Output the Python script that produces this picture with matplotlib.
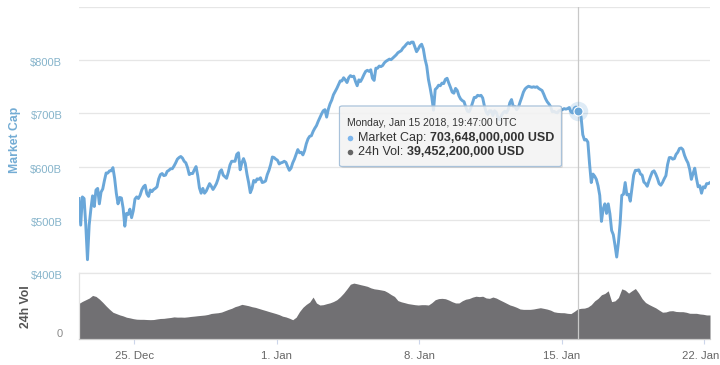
import matplotlib
matplotlib.use('Agg')
import matplotlib.pyplot as plt
import matplotlib.transforms as mtransforms
from matplotlib.patches import FancyBboxPatch
from matplotlib.lines import Line2D
from matplotlib.text import Annotation
import pandas as pd

plt.rcParams['font.family'] = ['Liberation Sans', 'DejaVu Sans']

# ---------------- data ----------------
cap_start = '2017-12-22 07:00'
cap_step = '2h'
market_cap_b = [
    540, 490, 543, 540, 490, 425, 490, 520, 545, 525, 556, 559,
    530, 552, 558, 574, 588, 588, 592, 592, 598, 578, 550, 530,
    542, 541, 522, 488, 512, 510, 520, 504, 517, 539, 543, 540,
    546, 556, 562, 565, 549, 544, 556, 553, 557, 559, 562, 577,
    585, 587, 583, 584, 591, 593, 596, 596, 601, 607, 614, 617,
    619, 616, 610, 607, 598, 585, 587, 587, 594, 600, 583, 560,
    550, 559, 550, 554, 561, 568, 563, 557, 562, 568, 577, 590,
    594, 584, 581, 578, 589, 603, 610, 610, 610, 623, 626, 594,
    607, 615, 606, 586, 570, 551, 559, 574, 571, 577, 576, 579,
    570, 571, 573, 585, 593, 604, 618, 617, 614, 612, 605, 607,
    608, 610, 608, 600, 593, 597, 607, 614, 623, 632, 626, 627,
    622, 630, 643, 652, 657, 658, 666, 672, 677, 685, 692, 699,
    705, 707, 693, 708, 718, 725, 735, 741, 747, 754, 761, 761,
    767, 763, 758, 767, 771, 769, 770, 760, 752, 763, 760, 766,
    773, 779, 781, 779, 782, 766, 762, 785, 785, 789, 788, 790,
    795, 798, 800, 802, 801, 804, 807, 810, 814, 816, 818, 823,
    826, 830, 833, 831, 834, 834, 825, 816, 821, 827, 830, 821,
    802, 789, 764, 748, 730, 706, 745, 748, 753, 752, 757, 756,
    764, 766, 757, 749, 740, 738, 747, 743, 733, 727, 724, 722,
    712, 704, 703, 710, 720, 730, 730, 734, 733, 734, 729, 714,
    703, 698, 705, 705, 696, 705, 702, 692, 688, 696, 701, 704,
    701, 707, 720, 726, 713, 713, 707, 711, 721, 730, 740, 746,
    749, 751, 750, 749, 750, 749, 750, 747, 745, 743, 736, 728,
    722, 718, 713, 703, 704, 702, 701, 705, 706, 707, 709, 708,
    709, 711, 703, 701, 710, 712, 707, 703, 693, 660, 650, 651,
    646, 605, 570, 586, 582, 576, 564, 546, 497, 520, 530, 512,
    530, 511, 480, 472, 452, 430, 457, 493, 546, 548, 570, 547,
    548, 535, 560, 584, 593, 593, 594, 586, 584, 571, 568, 563,
    573, 582, 590, 592, 586, 578, 568, 565, 570, 577, 583, 604,
    617, 617, 614, 615, 623, 627, 634, 635, 632, 621, 613, 607,
    595, 576, 587, 597, 578, 562, 564, 550, 562, 560, 568, 568,
    570,
]

vol_start = '2017-12-22 07:00'
vol_step = '4h'
volume_b = [
    54, 57, 59.5, 62, 66, 64.5,
    60.5, 55.5, 50, 45, 40.5, 38.5,
    36.5, 35, 33, 32, 30.8, 30,
    29.8, 29.8, 29.5, 29.3, 29.5, 30.4,
    31.1, 31.3, 32, 32.6, 33.5, 33.1,
    33.2, 33, 33.5, 34.2, 34.7, 35.3,
    35.8, 36.3, 37.2, 38.7, 39.3, 39.8,
    40.8, 42.8, 44.8, 46.5, 49, 50.5,
    52.5, 51.5, 50.4, 48.9, 47.9, 46.3,
    44.7, 43.2, 41.6, 40.1, 38.6, 36.9,
    34.6, 33.4, 31.5, 29.2, 33, 41.5,
    48, 52.5, 56, 63.5, 54.5, 51.5,
    52, 53.5, 54.8, 56.8, 59.5, 64,
    69.5, 76, 83, 84.7, 83.6, 82.3,
    81.1, 79.8, 77.5, 76, 75.3, 74.4,
    73.4, 70.7, 67.3, 64.4, 58.2, 56.3,
    55, 53.6, 52.8, 52, 51.5, 52,
    52, 51.5, 55, 59.5, 61.2, 61.6,
    61, 59, 56.5, 54.6, 54.6, 58,
    60.3, 61.3, 63.4, 64.8, 64.2, 64.8,
    62.2, 61.6, 63.6, 62, 59.3, 56.8,
    54.2, 51.6, 50, 48, 45.5, 44.9,
    44.9, 44.9, 45.5, 46.5, 47.4, 46.4,
    45.3, 43.7, 41.2, 40.3, 39.9, 39.8,
    38.9, 38.5, 41.8, 45.6, 46.5, 46.8,
    48.4, 52, 57.8, 61.5, 67, 69,
    73, 56.6, 57.8, 62.8, 76, 74,
    69.5, 73.2, 76.5, 69.5, 61, 55.3,
    52.3, 49.7, 47.2, 43.8, 40.6, 41,
    42.6, 42.9, 41.7, 41.4, 41.4, 40.5,
    39, 38.9, 38.9, 37.9, 37.4, 36.4,
    36.4,
]

cap_ticks = [400, 500, 600, 700, 800, 900]
cap_tick_labels = ['$400B', '$500B', '$600B', '$700B', '$800B', '']
cap_range = [400, 900]
vol_ticks = [0]
vol_tick_labels = ['0']
vol_range = [0, 100]
date_ticks = ['2017-12-25', '2018-01-01', '2018-01-08', '2018-01-15', '2018-01-22']
date_tick_labels = ['25. Dec', '1. Jan', '8. Jan', '15. Jan', '22. Jan']
x_range = ['2017-12-22 07:00', '2018-01-22 07:00']

hover_time = '2018-01-15 19:47'
hover_header = 'Monday, Jan 15 2018, 19:47:00 UTC'
hover_cap_usd = 703648000000
hover_vol_usd = 39452200000

# ---------------- style ----------------
LINE_BLUE = '#6aa7d9'
VOL_GRAY = '#717073'
GRID = '#e6e6e6'

cap_times = pd.date_range(cap_start, periods=len(market_cap_b), freq=cap_step)
vol_times = pd.date_range(vol_start, periods=len(volume_b), freq=vol_step)

W, H = 720, 365
fig = plt.figure(figsize=(W / 100, H / 100), dpi=100)
ax = fig.add_axes([79 / W, 1 - 273 / H, 631 / W, 266 / H])
axv = fig.add_axes([79 / W, 1 - 339 / H, 631 / W, 66 / H], sharex=ax)

# --- market cap panel ---
ax.plot(cap_times, market_cap_b, color=LINE_BLUE, lw=2.1, solid_joinstyle='round', zorder=3)
ax.set_ylim(*cap_range)
ax.set_xlim(pd.Timestamp(x_range[0]), pd.Timestamp(x_range[1]))
ax.set_yticks(cap_ticks)
ax.set_yticklabels(cap_tick_labels)
ax.set_frame_on(False)
for s in ax.spines.values():
    s.set_visible(False)
ax.xaxis.grid(False)
ax.yaxis.grid(True, color=GRID, lw=0.9)
ax.set_axisbelow(True)
ax.tick_params(axis='y', length=0, pad=12, labelsize=8, labelcolor='#86b4cb')
ax.tick_params(axis='x', bottom=False, labelbottom=False)
off = mtransforms.ScaledTranslation(0, -2 / 100, fig.dpi_scale_trans)
for lab in ax.get_yticklabels():
    lab.set_transform(lab.get_transform() + off)

# hover crosshair & marker
ht = pd.Timestamp(hover_time)
ax.axvline(ht, color='#c8c8c8', lw=0.9, zorder=2)
axv.axvline(ht, color='#c8c8c8', lw=0.9, zorder=3)
ax.plot([ht], [hover_cap_usd / 1e9], 'o', ms=14, color=LINE_BLUE, alpha=0.22, mec='none', zorder=4)
ax.plot([ht], [hover_cap_usd / 1e9], 'o', ms=6.5, mfc=LINE_BLUE, mec='white', mew=0.8, zorder=5)

fig.text(15 / W, 1 - 140 / H, 'Market Cap', rotation=90, ha='center', va='center',
         color='#73acd4', fontsize=8.8, fontweight='bold')

# --- volume panel ---
axv.fill_between(vol_times, volume_b, 0, color=VOL_GRAY, lw=0, zorder=2)
axv.set_ylim(*vol_range)
axv.set_yticks(vol_ticks)
axv.set_yticklabels(vol_tick_labels)
axv.tick_params(axis='y', length=0, pad=12, labelsize=8, labelcolor='#8a8a8a')
offv = mtransforms.ScaledTranslation(0, 6 / 100, fig.dpi_scale_trans)
for lab in axv.get_yticklabels():
    lab.set_transform(lab.get_transform() + offv)
axv.set_xticks([pd.Timestamp(d) for d in date_ticks])
axv.set_xticklabels(date_tick_labels)
axv.tick_params(axis='x', length=3.6, width=0.8, color='#ccd6eb', pad=5,
                labelsize=8.2, labelcolor='#666666')
offx = mtransforms.ScaledTranslation(-3 / 100, 0, fig.dpi_scale_trans)
xl = axv.get_xticklabels()
xl[-1].set_transform(xl[-1].get_transform() + offx)
axv.spines['right'].set_visible(False)
axv.spines['top'].set_color(GRID)
axv.spines['left'].set_color('#e2e2e2')
axv.spines['bottom'].set_color('#cccccc')
for name in ('top', 'left', 'bottom'):
    axv.spines[name].set_linewidth(0.9)

fig.text(26 / W, 1 - 307 / H, '24h Vol', rotation=90, ha='center', va='center',
         color='#555555', fontsize=8.8, fontweight='bold')

# --- tooltip ---
bx0, by0, bx1, by1 = 339.5, 106.0, 561.5, 166.5
shadow = FancyBboxPatch(((bx0 + 1.5) / W, 1 - (by1 + 1.5) / H), (bx1 - bx0) / W, (by1 - by0) / H,
                        boxstyle='round,pad=0,rounding_size=0.004', transform=fig.transFigure,
                        facecolor=(0, 0, 0, 0.10), edgecolor='none', zorder=9)
fig.add_artist(shadow)
box = FancyBboxPatch((bx0 / W, 1 - by1 / H), (bx1 - bx0) / W, (by1 - by0) / H,
                     boxstyle='round,pad=0,rounding_size=0.004', transform=fig.transFigure,
                     facecolor=(0.97, 0.97, 0.97, 0.86), edgecolor='#a9c2da', lw=0.9, zorder=10)
fig.add_artist(box)

fig.text(347 / W, 1 - 123.5 / H, hover_header, fontsize=7.5, color='#333333',
         va='center', ha='left', zorder=11)

rows = [
    (137.8, '#7cb5ec', 'Market Cap:', f'{hover_cap_usd:,} USD'),
    (151.8, '#666666', '24h Vol:', f'{hover_vol_usd:,} USD'),
]
for y, bullet_color, name, value in rows:
    fig.add_artist(Line2D([350 / W], [1 - y / H], marker='o', ms=4, color=bullet_color,
                          mec='none', transform=fig.transFigure, zorder=11))
    t1 = fig.text(358 / W, 1 - y / H, name, fontsize=9, color='#333333',
                  va='center', ha='left', zorder=11)
    a = Annotation(value, xy=(1, 0.5), xycoords=t1, xytext=(2.6, 0), textcoords='offset points',
                   fontsize=9, fontweight='bold', color='#333333', va='center', ha='left',
                   zorder=11)
    fig.add_artist(a)

fig.savefig('out.png', dpi=100, facecolor='white')
